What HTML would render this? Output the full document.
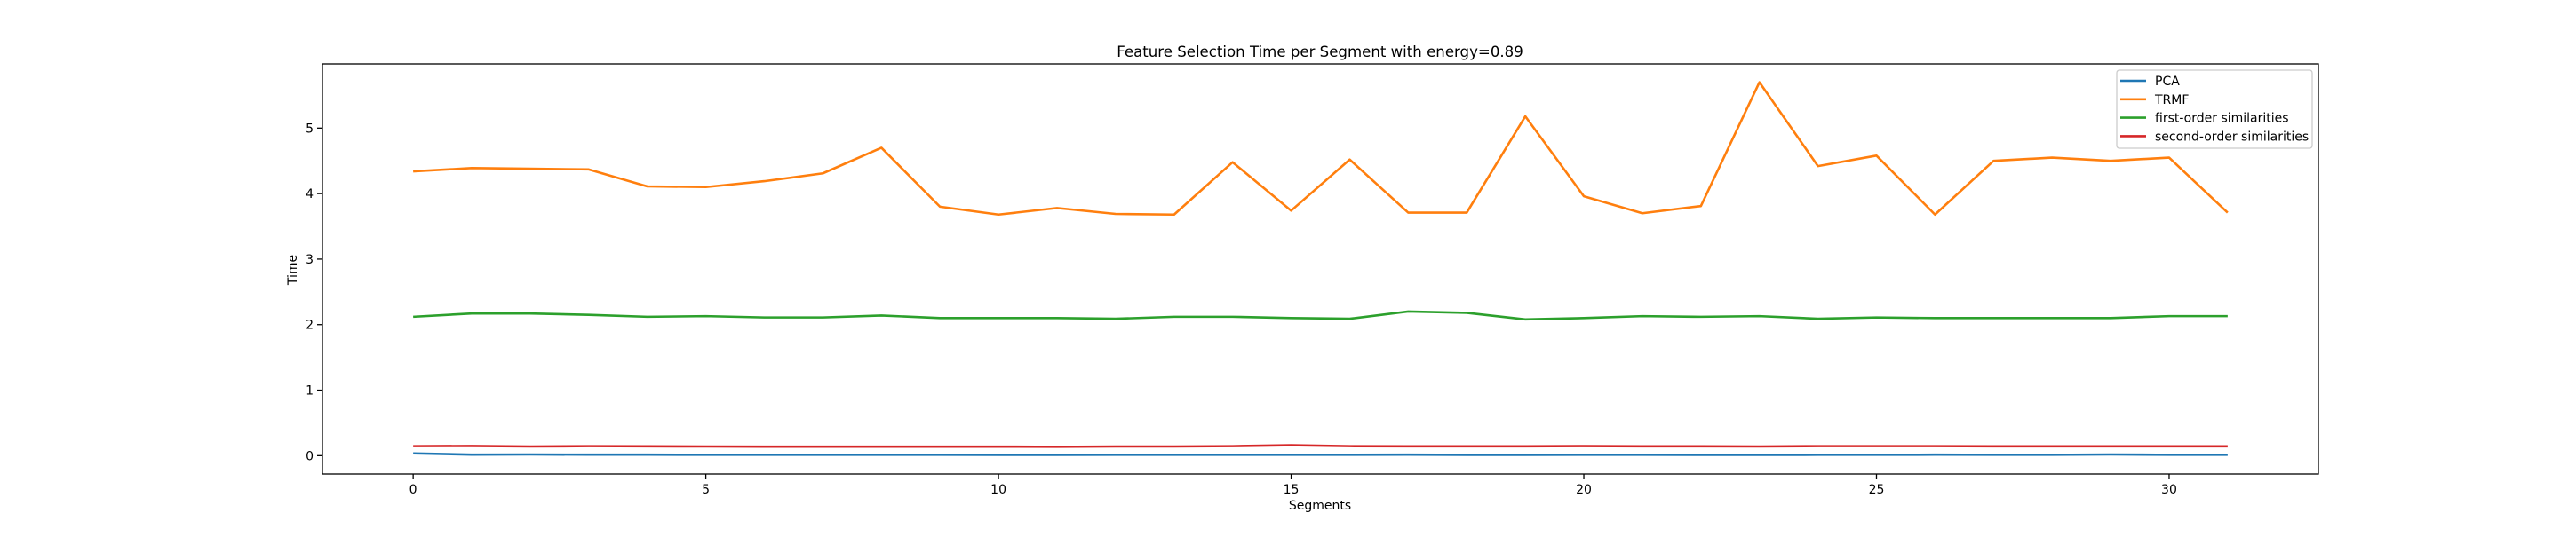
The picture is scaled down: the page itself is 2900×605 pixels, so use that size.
<!DOCTYPE html>
<html><head><meta charset="utf-8"><style>
body{margin:0;background:#fff;}
svg text{font-family:"DejaVu Sans","Liberation Sans",sans-serif;fill:#000;}
</style></head><body>
<svg id="chart" width="2900" height="600" xmlns="http://www.w3.org/2000/svg"></svg>
<script>
const segments=[0,1,2,3,4,5,6,7,8,9,10,11,12,13,14,15,16,17,18,19,20,21,22,23,24,25,26,27,28,29,30,31];
const pcaVals=[0.035,0.015,0.018,0.015,0.015,0.013,0.013,0.013,0.013,0.013,0.012,0.012,0.013,0.013,0.013,0.013,0.013,0.016,0.012,0.012,0.014,0.013,0.012,0.012,0.013,0.013,0.015,0.013,0.013,0.018,0.013,0.013];
const trmfVals=[4.34,4.39,4.38,4.37,4.11,4.10,4.19,4.31,4.70,3.80,3.68,3.78,3.69,3.68,4.48,3.74,4.52,3.71,3.71,5.18,3.96,3.70,3.81,5.70,4.42,4.58,3.68,4.50,4.55,4.50,4.55,3.71];
const firstVals=[2.12,2.17,2.17,2.15,2.12,2.13,2.11,2.11,2.14,2.10,2.10,2.10,2.09,2.12,2.12,2.10,2.09,2.20,2.18,2.08,2.10,2.13,2.12,2.13,2.09,2.11,2.10,2.10,2.10,2.10,2.13,2.13];
const secondVals=[0.145,0.148,0.14,0.145,0.143,0.14,0.138,0.138,0.138,0.138,0.138,0.135,0.14,0.14,0.145,0.16,0.145,0.142,0.142,0.142,0.146,0.143,0.143,0.14,0.145,0.145,0.145,0.143,0.143,0.143,0.143,0.143];
const xTicks=[0,5,10,15,20,25,30];
const yTicks=[0,1,2,3,4,5];
const seriesNames=["PCA","TRMF","first-order similarities","second-order similarities"];

const L=363,R=2610,T=72,B=534,xmin=-1.55,xmax=32.55,ymin=-0.28,ymax=5.98;
const X=v=>L+(v-xmin)/(xmax-xmin)*(R-L);
const Y=v=>B-(v-ymin)/(ymax-ymin)*(B-T);
const svg=document.getElementById('chart');
const NS="http://www.w3.org/2000/svg";
function mk(tag,attrs,parent){const e=document.createElementNS(NS,tag);for(const k in attrs)e.setAttribute(k,attrs[k]);(parent||svg).appendChild(e);return e;}

const title=mk('text',{x:1486,y:64,'text-anchor':'middle','font-size':16.6});
title.textContent='Feature Selection Time per Segment with energy=0.89';



xTicks.forEach(t=>{
  const g=mk('g',{});
  
  
  mk('line',{x1:X(t),x2:X(t),y1:B,y2:B+6,stroke:'#000','stroke-width':1.3},g);
  const tx=mk('text',{x:X(t),y:B+22,'text-anchor':'middle','font-size':14},g);tx.textContent=t;
});
yTicks.forEach(t=>{
  const g=mk('g',{});
  
  
  mk('line',{x1:L-6,x2:L,y1:Y(t),y2:Y(t),stroke:'#000','stroke-width':1.3},g);
  const tx=mk('text',{x:L-10,y:Y(t)+5,'text-anchor':'end','font-size':14},g);tx.textContent=t;
});
const xl=mk('text',{x:1486,y:574,'text-anchor':'middle','font-size':14});xl.textContent='Segments';


const yl=mk('text',{x:0,y:0,'text-anchor':'middle','font-size':14,transform:'translate(334,304) rotate(-90)'});yl.textContent='Time';



const colors=['#1f77b4','#ff7f0e','#2ca02c','#d62728'];
[pcaVals,trmfVals,firstVals,secondVals].forEach((vals,i)=>{
  const p=mk('polyline',{points:vals.map((v,j)=>X(segments[j])+','+Y(v)).join(' '),fill:'none',stroke:colors[i],'stroke-width':2.6,'stroke-linejoin':'round'});
  
  
});

const frame=mk('rect',{x:L,y:T,width:R-L,height:B-T,fill:'none',stroke:'#000','stroke-width':1.3});



const lg=mk('g',{});


mk('rect',{x:2383,y:79,width:220,height:88,rx:3,fill:'#fff','fill-opacity':0.8,stroke:'#ccc','stroke-width':1.3},lg);
seriesNames.forEach((n,i)=>{
  const yy=91+i*20.8;
  const e=mk('g',{},lg);
  
  
  mk('line',{x1:2387,x2:2416,y1:yy,y2:yy,stroke:colors[i],'stroke-width':2.6},e);
  const t=mk('text',{x:2426,y:yy+5,'font-size':14},e);t.textContent=n;
});
</script>
</body></html>
